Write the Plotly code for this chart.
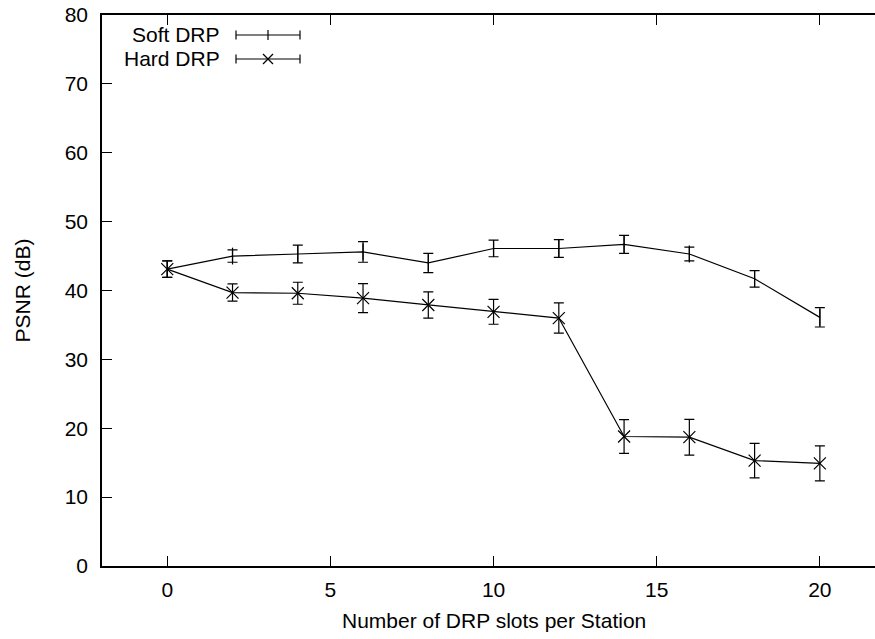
import plotly.graph_objects as go

# ---- data ----
slots = [0, 2, 4, 6, 8, 10, 12, 14, 16, 18, 20]
soft_psnr = [43.1, 45.0, 45.3, 45.6, 44.0, 46.1, 46.1, 46.7, 45.3, 41.7, 36.1]
soft_err = [1.2, 0.9, 1.3, 1.5, 1.4, 1.2, 1.3, 1.3, 1.0, 1.2, 1.4]
hard_psnr = [43.1, 39.7, 39.6, 38.9, 37.9, 36.9, 36.0, 18.8, 18.7, 15.3, 14.9]
hard_err = [1.2, 1.25, 1.6, 2.1, 1.9, 1.8, 2.2, 2.45, 2.6, 2.5, 2.55]
series_names = ["Soft DRP", "Hard DRP"]
x_ticks = [0, 5, 10, 15, 20]
y_ticks = [0, 10, 20, 30, 40, 50, 60, 70, 80]
x_title = "Number of DRP slots per Station"
y_title = "PSNR (dB)"

FONT = "Liberation Sans, Arial, Helvetica, sans-serif"
FS = 21
W, H = 875, 639
ML, MR, MT, MB = 102, 0, 15, 73

fig = go.Figure()

def add_series(y, err, symbol, name):
    fig.add_trace(go.Scatter(
        x=slots, y=y, mode="lines+markers", name=name, showlegend=False,
        line=dict(color="black", width=1.2),
        marker=dict(symbol=symbol, size=12, color="black",
                    line=dict(color="black", width=1.2)),
        error_y=dict(type="data", array=err, visible=True,
                     color="black", thickness=1.2, width=5),
    ))

add_series(soft_psnr, soft_err, "line-ns", series_names[0])
add_series(hard_psnr, hard_err, "x-thin", series_names[1])

# ---- manual legend (text left of sample, gnuplot style) ----
pw = W - ML - MR
ph = H - MT - MB
def px(x):
    return (x - ML) / pw
def py(y):
    return (H - MB - y) / ph

shapes = []
annotations = []
legend_rows = [(35, "plus"), (59, "cross")]
for (ypix, kind), name in zip(legend_rows, series_names):
    yc = py(ypix)
    annotations.append(dict(
        x=px(222), y=yc, xref="paper", yref="paper", text=name,
        showarrow=False, xanchor="right", yanchor="middle",
        font=dict(family=FONT, size=FS, color="black")))
    line = dict(color="black", width=1.2)
    shapes.append(dict(type="line", xref="paper", yref="paper",
                       x0=px(236), x1=px(300), y0=yc, y1=yc, line=line))
    for xe in (236, 300):
        shapes.append(dict(type="line", xref="paper", yref="paper",
                           x0=px(xe), x1=px(xe), y0=py(ypix - 4.5), y1=py(ypix + 4.5), line=line))
    if kind == "plus":
        shapes.append(dict(type="line", xref="paper", yref="paper",
                           x0=px(268), x1=px(268), y0=py(ypix - 5), y1=py(ypix + 5), line=line))
    else:
        shapes.append(dict(type="line", xref="paper", yref="paper",
                           x0=px(263), x1=px(273), y0=py(ypix - 5), y1=py(ypix + 5), line=line))
        shapes.append(dict(type="line", xref="paper", yref="paper",
                           x0=px(263), x1=px(273), y0=py(ypix + 5), y1=py(ypix - 5), line=line))

# x-axis title centred over the (partly cropped) gnuplot frame
annotations.append(dict(
    x=px(494), y=py(620), xref="paper", yref="paper", text=x_title,
    showarrow=False, xanchor="center", yanchor="middle",
    font=dict(family=FONT, size=FS, color="black")))

fig.update_layout(
    width=W, height=H,
    margin=dict(l=ML, r=MR, t=MT, b=MB, pad=0),
    paper_bgcolor="white", plot_bgcolor="white",
    font=dict(family=FONT, size=FS, color="black"),
    showlegend=False,
    shapes=shapes, annotations=annotations,
    xaxis=dict(
        range=[-2, 21.69], tickvals=x_ticks, ticktext=[str(v) for v in x_ticks],
        ticks="inside", ticklen=10, tickwidth=1.2, tickcolor="black",
        showline=True, linecolor="black", linewidth=1.5, mirror="ticks",
        showgrid=False, zeroline=False, ticklabelstandoff=4,
        tickfont=dict(family=FONT, size=FS),
        automargin=False,
    ),
    yaxis=dict(
        range=[0, 80], tickvals=y_ticks, ticktext=[str(v) for v in y_ticks],
        ticks="inside", ticklen=10, tickwidth=1.2, tickcolor="black",
        showline=True, linecolor="black", linewidth=1.5, mirror=False,
        showgrid=False, zeroline=False, ticklabelstandoff=8,
        title=dict(text=y_title, standoff=28,
                   font=dict(family=FONT, size=FS)),
        tickfont=dict(family=FONT, size=FS),
        automargin=False,
    ),
)

fig.write_html("out.html")
